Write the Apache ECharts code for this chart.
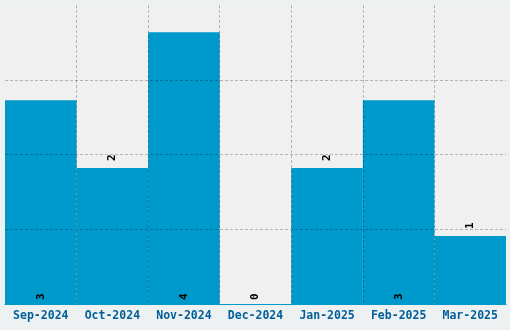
<!DOCTYPE html>
<html><head><meta charset="utf-8">
<script src="https://cdn.jsdelivr.net/npm/echarts@6/dist/echarts.min.js"></script>
<style>html,body{margin:0;padding:0;background:#eef1f1;}#c{width:510px;height:330px;}</style>
</head><body><div id="c"></div>
<script>
const categories = ["Sep-2024","Oct-2024","Nov-2024","Dec-2024","Jan-2025","Feb-2025","Mar-2025"];
const counts = [3, 2, 4, 0, 2, 3, 1];
const labelInsideFrom = 3;

const chart = echarts.init(document.getElementById('c'), null, {renderer:'canvas'});
const font = '"DejaVu Sans Mono", monospace';
const gridLine = {show: true, showMinLine: false, showMaxLine: false, lineStyle: {type: [3, 2], color: 'rgba(0,0,0,0.25)', width: 1}};
chart.setOption({
  backgroundColor: '#eef1f1',
  animation: false,
  grid: {left: 5, right: 4, top: 5, bottom: 26, show: true, backgroundColor: '#f0f0f0', borderWidth: 0},
  xAxis: {
    type: 'category', data: categories, z: 5,
    axisLine: {lineStyle: {color: '#0099cc', width: 1}},
    axisTick: {show: false},
    axisLabel: {color: '#005f99', fontFamily: font, fontWeight: 'bold', fontSize: 11.5, margin: 6, interval: 0},
    splitLine: gridLine
  },
  yAxis: {
    type: 'value', min: 0, max: 4.4, interval: 1.1, z: 5,
    axisLabel: {show: false}, axisLine: {show: false}, axisTick: {show: false},
    splitLine: gridLine
  },
  series: [{
    type: 'bar', barCategoryGap: '0%', z: 2,
    itemStyle: {color: '#0099cc'},
    data: counts.map(v => {
      const inside = v >= labelInsideFrom || v === 0;
      return {
        value: v,
        label: {
          show: true, rotate: 90, align: 'left', verticalAlign: 'middle',
          position: inside ? 'insideBottom' : 'top',
          distance: inside ? 4 : 7,
          color: '#000', fontFamily: font, fontWeight: 'bold', fontSize: 11
        }
      };
    })
  }]
});
</script></body></html>
